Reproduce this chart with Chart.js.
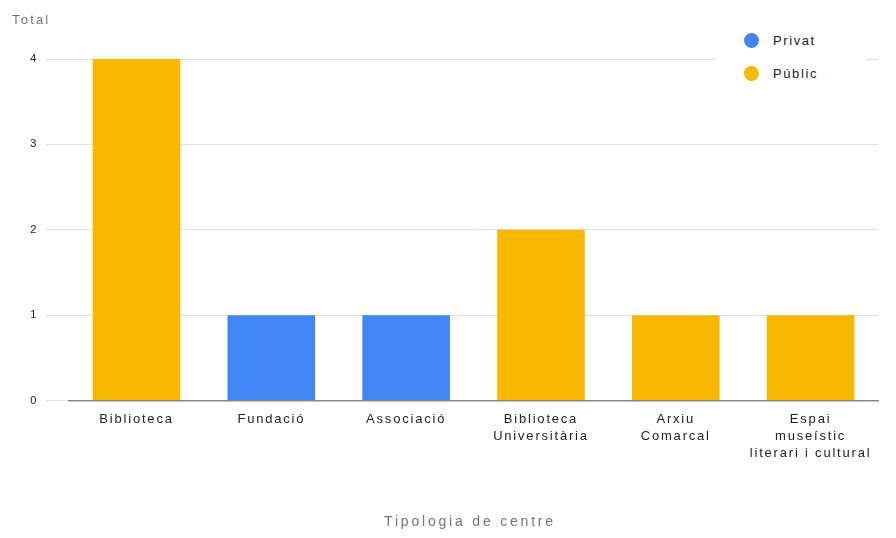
<!DOCTYPE html>
<html>
<head>
<meta charset="utf-8">
<script src="https://cdn.jsdelivr.net/npm/chart.js@4/dist/chart.umd.min.js"></script>
<style>
	body { margin: 0; background: #fff; }
	#wrap { position: relative; width: 896px; height: 538px; }
	#legend {
		position: absolute; left: 716px; top: 24px; width: 150px; background: #fff;
		font-family: "Liberation Sans", Arial, sans-serif; font-size: 13px; color: #222;
		letter-spacing: 1.6px;
	}
	.item { display: flex; align-items: center; height: 33px; padding-left: 28px; }
	.dot { width: 15px; height: 15px; border-radius: 50%; margin-right: 14px; }
</style>
</head>
<body>
<div id="wrap">
	<canvas id="myBarChart" width="896" height="538"></canvas>
	<div id="legend"></div>
</div>
<script>
const categories = [
	"Biblioteca",
	"Fundació",
	"Associació",
	["Biblioteca", "Universitària"],
	["Arxiu", "Comarcal"],
	["Espai", "museístic", "literari i cultural"]
];
const privatValues = [0, 1, 1, 0, 0, 0];
const publicValues = [4, 0, 0, 2, 1, 1];
const yTicks = [0, 1, 2, 3, 4];

const seriesNames = ["Privat", "Públic"];
const seriesColors = ["#4285f4", "#f9b800"];

const FONT = "'Liberation Sans', Arial, sans-serif";

document.addEventListener("DOMContentLoaded", function () {
	// HTML legend, top right
	const legend = document.getElementById("legend");
	seriesNames.forEach((name, i) => {
		const row = document.createElement("div");
		row.className = "item";
		const dot = document.createElement("span");
		dot.className = "dot";
		dot.style.background = seriesColors[i];
		row.appendChild(dot);
		row.appendChild(document.createTextNode(name));
		legend.appendChild(row);
	});

	// the reference text is drawn wide, so spread the letters a bit
	const textPlugin = {
		id: "wideText",
		beforeDraw(chart) {
			chart.ctx.letterSpacing = "1.8px";
		},
		afterDraw(chart) {
			const c = chart.ctx;
			c.save();
			c.fillStyle = "#757575";
			c.textBaseline = "middle";
			c.font = "13px " + FONT;
			c.letterSpacing = "2.2px";
			c.textAlign = "left";
			c.fillText("Total", 12, 20);
			c.font = "14px " + FONT;
			c.letterSpacing = "2.8px";
			c.textAlign = "center";
			c.fillText("Tipologia de centre", 470, 522);
			c.restore();
		}
	};

	const ctx = document.getElementById("myBarChart");
	new Chart(ctx, {
		type: "bar",
		data: {
			labels: categories,
			datasets: [
				{ label: seriesNames[0], data: privatValues, backgroundColor: seriesColors[0] },
				{ label: seriesNames[1], data: publicValues, backgroundColor: seriesColors[1] }
			]
		},
		options: {
			responsive: false,
			animation: false,
			layout: { padding: { top: 59, right: 18, left: 24, bottom: 66 } },
			datasets: { bar: { categoryPercentage: 1, barPercentage: 0.65 } },
			plugins: { legend: { display: false }, tooltip: { enabled: false } },
			scales: {
				x: {
					stacked: true,
					grid: { display: false, drawTicks: false },
					border: { color: "#888", width: 1.5 },
					ticks: {
						color: "#222", padding: 10, maxRotation: 0, autoSkip: false,
						font: { family: FONT, size: 13, lineHeight: 1.32 }
					}
				},
				y: {
					stacked: true,
					min: 0, max: 4,
					afterBuildTicks(axis) { axis.ticks = yTicks.map(v => ({ value: v })); },
					grid: { color: "#e0e0e0", tickLength: 23, tickColor: "#e0e0e0" },
					border: { display: false },
					ticks: {
						color: "#222", padding: 8,
						font: { family: FONT, size: 11 }
					}
				}
			}
		},
		plugins: [textPlugin]
	});
});
</script>
</body>
</html>
